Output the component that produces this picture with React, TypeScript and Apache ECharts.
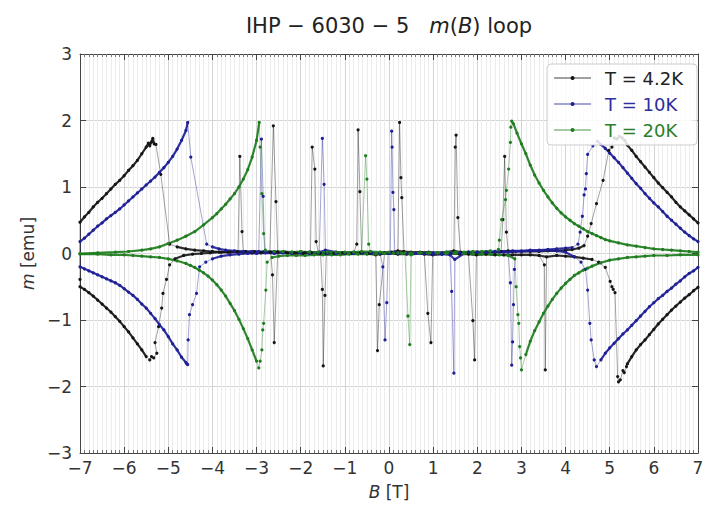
import React, { useEffect, useRef } from "react";
import * as echarts from "echarts";

type P = [number, number];

// ---------------- T = 4.2K (black) ----------------
const blackEnvUR: P[] = [[7.0,0.46],[6.9,0.52],[6.8,0.58],[6.7,0.64],[6.6,0.70],[6.5,0.77],[6.4,0.85],[6.3,0.92],[6.2,0.99],[6.1,1.06],[6.0,1.14],[5.9,1.22],[5.8,1.30],[5.7,1.38],[5.6,1.46],[5.5,1.55],[5.4,1.63],[5.34,1.70],[5.28,1.74],[5.22,1.76],[5.16,1.72],[5.1,1.74]];
const blackJumpR: P[] = [[5.05,1.6],[4.98,1.55],[4.85,1.1],[4.7,0.75],[4.58,0.45],[4.5,0.26]];
const blackZeroDesc: P[] = [[4.42,0.12],[4.3,0.08],[4.15,0.06],[4.0,0.05],[3.8,0.04],[3.6,0.04],[3.4,0.03],[3.2,0.03],[3.0,0.03],[2.8,0.03],[2.7,0.04],[2.66,0.32],[2.62,1.46],[2.58,0.51],[2.54,0.03],[2.4,0.02],[2.2,0.02],[2.0,0.02],[1.8,0.02],[1.62,0.02],[1.56,0.54],[1.52,1.78],[1.5,1.6],[1.47,0.04],[1.3,0.02],[1.1,0.01],[0.9,0.02],[0.7,0.02],[0.5,0.02],[0.34,0.03],[0.29,0.84],[0.27,1.14],[0.24,1.97],[0.2,0.04],[0.05,0.02],[-0.1,0.01],[-0.22,-0.77],[-0.26,-1.46],[-0.3,-0.02],[-0.45,0.0],[-0.65,0.01],[-0.85,0.0],[-1.05,0.01],[-1.25,0.0],[-1.42,0.0],[-1.45,-0.63],[-1.49,-1.69],[-1.51,-0.54],[-1.55,0.0],[-1.75,0.01],[-1.95,0.0],[-2.15,0.01],[-2.35,0.02],[-2.52,0.02],[-2.6,-1.34],[-2.64,-0.32],[-2.68,0.02],[-2.85,0.02],[-3.05,0.03],[-3.25,0.03],[-3.45,0.03],[-3.65,0.02],[-3.85,0.02],[-4.05,0.01],[-4.25,0.0],[-4.45,-0.01],[-4.65,-0.03],[-4.85,-0.08],[-4.97,-0.17]];
const blackBuildL: P[] = [[-5.04,-0.39],[-5.12,-0.6],[-5.15,-0.82],[-5.22,-1.1],[-5.3,-1.34],[-5.26,-1.5],[-5.33,-1.57],[-5.38,-1.55],[-5.42,-1.6]];
const blackEnvLL: P[] = [[-5.5,-1.55],[-5.6,-1.45],[-5.7,-1.36],[-5.8,-1.27],[-5.9,-1.18],[-6.0,-1.1],[-6.1,-1.02],[-6.2,-0.95],[-6.3,-0.88],[-6.4,-0.82],[-6.5,-0.76],[-6.6,-0.7],[-6.7,-0.64],[-6.8,-0.59],[-6.9,-0.54],[-7.0,-0.5]];
const blackTurnL: P[] = [[-7.0,-0.39]];
const blackEnvUL: P[] = [[-7.0,0.47],[-6.9,0.55],[-6.8,0.62],[-6.7,0.70],[-6.6,0.77],[-6.5,0.83],[-6.4,0.90],[-6.3,0.97],[-6.2,1.04],[-6.1,1.10],[-6.0,1.17],[-5.9,1.25],[-5.8,1.32],[-5.7,1.40],[-5.6,1.50],[-5.5,1.60],[-5.45,1.66],[-5.42,1.62],[-5.38,1.68],[-5.35,1.73],[-5.32,1.65],[-5.28,1.64]];
const blackJumpL: P[] = [[-5.17,1.19],[-4.97,0.14]];
const blackZeroAsc: P[] = [[-4.8,0.1],[-4.6,0.07],[-4.4,0.05],[-4.2,0.04],[-4.0,0.03],[-3.8,0.02],[-3.6,0.02],[-3.42,0.02],[-3.38,1.46],[-3.33,0.33],[-3.3,0.02],[-3.1,0.01],[-2.9,0.01],[-2.7,0.02],[-2.62,1.92],[-2.56,0.78],[-2.52,0.02],[-2.3,0.01],[-2.1,0.0],[-1.9,0.01],[-1.78,0.02],[-1.74,1.6],[-1.68,1.27],[-1.65,0.18],[-1.6,0.01],[-1.4,0.0],[-1.2,0.01],[-1.0,0.0],[-0.8,0.01],[-0.73,0.14],[-0.7,1.86],[-0.66,0.93],[-0.62,0.01],[-0.4,0.0],[-0.2,-0.01],[0.0,0.0],[0.2,-0.01],[0.4,-0.01],[0.6,0.0],[0.8,-0.01],[0.88,-0.9],[0.95,-1.34],[0.99,-0.02],[1.2,-0.01],[1.4,0.0],[1.6,-0.01],[1.8,-0.01],[1.9,-1.01],[1.94,-1.6],[1.98,-0.02],[2.2,-0.01],[2.4,-0.02],[2.6,-0.02],[2.8,-0.02],[3.0,-0.02],[3.2,-0.02],[3.4,-0.03],[3.52,-0.17],[3.54,-1.75],[3.57,-0.05],[3.8,-0.03],[4.0,-0.04],[4.2,-0.05],[4.4,-0.07],[4.6,-0.09],[4.75,-0.13],[4.9,-0.21]];
const blackBuildR: P[] = [[5.01,-0.42],[5.05,-0.5],[5.08,-0.54],[5.12,-0.59],[5.18,-1.85],[5.2,-1.93],[5.24,-1.9],[5.3,-1.76],[5.33,-1.79],[5.38,-1.7]];
const blackEnvLR: P[] = [[5.4,-1.66],[5.5,-1.55],[5.6,-1.45],[5.7,-1.37],[5.8,-1.3],[5.9,-1.22],[6.0,-1.14],[6.1,-1.06],[6.2,-0.99],[6.3,-0.92],[6.4,-0.85],[6.5,-0.79],[6.6,-0.73],[6.7,-0.67],[6.8,-0.62],[6.9,-0.56],[7.0,-0.51]];

// ---------------- T = 10K (blue) ----------------
const blueEnvUR: P[] = [[7.0,0.18],[6.9,0.22],[6.8,0.27],[6.7,0.32],[6.6,0.38],[6.5,0.44],[6.4,0.5],[6.3,0.56],[6.2,0.63],[6.1,0.7],[6.0,0.76],[5.9,0.83],[5.8,0.9],[5.7,0.98],[5.6,1.05],[5.5,1.13],[5.4,1.21],[5.3,1.29],[5.2,1.37],[5.1,1.44],[5.0,1.51],[4.9,1.58],[4.8,1.64],[4.72,1.69]];
const blueJumpR: P[] = [[4.62,1.62],[4.5,1.49],[4.47,1.2],[4.45,0.97],[4.42,0.88],[4.38,0.56],[4.33,0.32],[4.28,0.14]];
const blueZeroDesc: P[] = [[4.15,0.09],[4.0,0.08],[3.8,0.07],[3.6,0.06],[3.4,0.05],[3.2,0.05],[3.0,0.04],[2.8,0.04],[2.6,0.03],[2.4,0.03],[2.2,0.02],[2.0,0.02],[1.8,0.02],[1.6,0.01],[1.4,0.01],[1.2,0.01],[1.0,0.01],[0.8,0.0],[0.6,0.0],[0.4,0.0],[0.2,0.01],[0.13,0.01],[0.11,0.66],[0.09,0.92],[0.07,1.6],[0.06,1.84],[0.03,0.01],[-0.02,0.0],[-0.05,-0.74],[-0.09,-1.3],[-0.14,-0.2],[-0.2,0.0],[-0.4,0.01],[-0.6,0.01],[-0.8,0.0],[-1.0,0.01],[-1.2,0.0],[-1.4,0.0],[-1.6,0.01],[-1.8,0.0],[-2.0,0.01],[-2.2,0.0],[-2.4,0.01],[-2.6,0.0],[-2.8,0.01],[-3.0,0.0],[-3.2,0.0],[-3.4,-0.01],[-3.6,-0.02],[-3.8,-0.04],[-4.0,-0.08],[-4.15,-0.13]];
const blueBuildL: P[] = [[-4.29,-0.2],[-4.36,-0.6],[-4.45,-0.77],[-4.52,-0.92],[-4.55,-1.3],[-4.56,-1.67],[-4.58,-1.66]];
const blueEnvLL: P[] = [[-4.6,-1.64],[-4.7,-1.56],[-4.8,-1.45],[-4.9,-1.36],[-5.0,-1.25],[-5.1,-1.15],[-5.2,-1.07],[-5.3,-0.98],[-5.4,-0.9],[-5.5,-0.82],[-5.6,-0.76],[-5.7,-0.69],[-5.8,-0.63],[-5.9,-0.58],[-6.0,-0.53],[-6.1,-0.48],[-6.2,-0.44],[-6.3,-0.41],[-6.4,-0.38],[-6.5,-0.35],[-6.6,-0.32],[-6.7,-0.29],[-6.8,-0.26],[-6.9,-0.23],[-7.0,-0.2]];
const blueEnvUL: P[] = [[-7.0,0.18],[-6.9,0.23],[-6.8,0.29],[-6.7,0.35],[-6.6,0.41],[-6.5,0.46],[-6.4,0.52],[-6.3,0.57],[-6.2,0.62],[-6.1,0.67],[-6.0,0.73],[-5.9,0.79],[-5.8,0.85],[-5.7,0.91],[-5.6,0.97],[-5.5,1.03],[-5.4,1.09],[-5.3,1.15],[-5.2,1.22],[-5.1,1.29],[-5.0,1.37],[-4.9,1.46],[-4.8,1.57],[-4.7,1.7],[-4.6,1.85],[-4.56,1.97]];
const blueJumpL: P[] = [[-4.49,1.45],[-4.13,0.14]];
const blueZeroAsc: P[] = [[-4.0,0.1],[-3.85,0.07],[-3.7,0.05],[-3.5,0.04],[-3.3,0.03],[-3.1,0.03],[-2.95,0.03],[-2.89,1.72],[-2.85,0.86],[-2.82,0.03],[-2.6,0.03],[-2.4,0.02],[-2.2,0.02],[-2.0,0.02],[-1.8,0.02],[-1.58,0.02],[-1.51,1.73],[-1.47,1.04],[-1.44,0.05],[-1.2,0.02],[-1.0,0.01],[-0.8,0.02],[-0.6,0.01],[-0.4,0.01],[-0.2,0.0],[0.0,0.01],[0.2,0.0],[0.4,0.0],[0.6,0.0],[0.8,0.0],[1.0,-0.01],[1.2,-0.01],[1.38,-0.02],[1.42,-0.57],[1.47,-1.8],[1.49,-0.09],[1.7,0.0],[1.9,0.01],[2.1,0.01],[2.3,0.02],[2.5,0.02],[2.7,0.02],[2.75,-0.44],[2.78,-1.68],[2.8,-1.33],[2.82,-0.77],[2.84,-0.24],[2.87,0.03],[3.0,0.03],[3.2,0.04],[3.4,0.04],[3.6,0.05],[3.8,0.04],[4.0,0.02],[4.2,-0.05],[4.35,-0.13]];
const blueBuildR: P[] = [[4.45,-0.24],[4.5,-0.55],[4.55,-1.05],[4.58,-1.3],[4.65,-1.6],[4.7,-1.7]];
const blueEnvLR: P[] = [[4.8,-1.6],[4.9,-1.5],[5.0,-1.42],[5.1,-1.35],[5.2,-1.28],[5.3,-1.21],[5.4,-1.15],[5.5,-1.08],[5.6,-1.01],[5.7,-0.94],[5.8,-0.87],[5.9,-0.8],[6.0,-0.74],[6.1,-0.68],[6.2,-0.63],[6.3,-0.57],[6.4,-0.52],[6.5,-0.46],[6.6,-0.41],[6.7,-0.35],[6.8,-0.3],[6.9,-0.26],[7.0,-0.21]];

// ---------------- T = 20K (green) ----------------
const greenEnvUR: P[] = [[7.0,0.02],[6.8,0.03],[6.6,0.04],[6.4,0.05],[6.2,0.06],[6.0,0.07],[5.8,0.09],[5.6,0.11],[5.4,0.13],[5.2,0.16],[5.0,0.19],[4.9,0.21],[4.8,0.24],[4.7,0.27],[4.6,0.3],[4.5,0.33],[4.4,0.37],[4.3,0.41],[4.2,0.45],[4.1,0.5],[4.0,0.55],[3.9,0.61],[3.8,0.68],[3.7,0.76],[3.6,0.85],[3.5,0.95],[3.4,1.06],[3.3,1.18],[3.2,1.33],[3.1,1.5],[3.0,1.65],[2.9,1.81],[2.82,1.95],[2.78,1.99]];
const greenJumpR: P[] = [[2.76,1.9],[2.75,1.67],[2.71,1.27],[2.66,0.95],[2.64,0.81],[2.55,0.51],[2.5,0.2],[2.48,0.06]];
const greenZeroDesc: P[] = [[2.3,0.04],[2.1,0.03],[1.9,0.03],[1.7,0.02],[1.5,0.02],[1.3,0.02],[1.1,0.01],[0.9,0.01],[0.7,0.01],[0.5,0.01],[0.3,0.0],[0.1,0.0],[-0.1,0.0],[-0.3,-0.01],[-0.5,-0.01],[-0.7,-0.01],[-0.9,-0.01],[-1.1,-0.02],[-1.3,-0.02],[-1.5,-0.02],[-1.7,-0.02],[-1.9,-0.03],[-2.1,-0.03],[-2.3,-0.03],[-2.5,-0.04],[-2.65,-0.06]];
const greenBuildL: P[] = [[-2.76,-0.13],[-2.79,-0.55],[-2.84,-1.05],[-2.86,-1.15],[-2.88,-1.45],[-2.92,-1.62],[-2.95,-1.72]];
const greenEnvLL: P[] = [[-3.0,-1.62],[-3.1,-1.45],[-3.2,-1.28],[-3.3,-1.13],[-3.4,-0.99],[-3.5,-0.86],[-3.6,-0.75],[-3.7,-0.64],[-3.8,-0.55],[-3.9,-0.47],[-4.0,-0.4],[-4.1,-0.34],[-4.2,-0.29],[-4.3,-0.25],[-4.4,-0.21],[-4.5,-0.18],[-4.6,-0.15],[-4.8,-0.11],[-5.0,-0.08],[-5.2,-0.06],[-5.4,-0.05],[-5.6,-0.04],[-5.8,-0.03],[-6.0,-0.02],[-6.3,-0.02],[-6.6,-0.01],[-7.0,-0.01]];
const greenEnvUL: P[] = [[-7.0,0.0],[-6.6,0.01],[-6.2,0.02],[-5.9,0.03],[-5.6,0.05],[-5.4,0.07],[-5.2,0.1],[-5.0,0.15],[-4.8,0.2],[-4.6,0.26],[-4.4,0.33],[-4.2,0.43],[-4.0,0.54],[-3.9,0.6],[-3.8,0.67],[-3.7,0.74],[-3.6,0.82],[-3.5,0.9],[-3.4,1.0],[-3.3,1.12],[-3.2,1.26],[-3.1,1.45],[-3.0,1.7],[-2.94,1.97]];
const greenJumpL: P[] = [[-2.92,1.6],[-2.88,0.9],[-2.84,0.3],[-2.8,0.05]];
const greenZeroAsc: P[] = [[-2.6,0.03],[-2.4,0.03],[-2.2,0.02],[-2.0,0.03],[-1.8,0.02],[-1.6,0.02],[-1.4,0.02],[-1.2,0.02],[-1.0,0.02],[-0.8,0.02],[-0.62,0.03],[-0.53,1.47],[-0.5,1.12],[-0.46,0.14],[-0.42,0.03],[-0.2,0.02],[0.0,0.02],[0.2,0.01],[0.36,0.01],[0.43,-0.94],[0.47,-1.37],[0.5,-0.02],[0.7,0.01],[0.9,0.01],[1.1,0.01],[1.3,0.0],[1.5,0.0],[1.7,0.0],[1.9,-0.01],[2.1,-0.01],[2.3,-0.01],[2.5,-0.02],[2.7,-0.03],[2.85,-0.08]];
const greenBuildR: P[] = [[2.88,-0.5],[2.92,-0.92],[2.94,-1.05],[2.96,-1.4],[2.98,-1.57],[3.0,-1.75]];
const greenEnvLR: P[] = [[3.1,-1.52],[3.2,-1.32],[3.3,-1.16],[3.4,-1.03],[3.5,-0.9],[3.6,-0.79],[3.7,-0.69],[3.8,-0.6],[3.9,-0.52],[4.0,-0.45],[4.1,-0.39],[4.2,-0.33],[4.3,-0.29],[4.4,-0.25],[4.5,-0.22],[4.6,-0.19],[4.8,-0.14],[5.0,-0.1],[5.2,-0.08],[5.4,-0.06],[5.6,-0.05],[5.8,-0.04],[6.0,-0.03],[6.3,-0.03],[6.6,-0.02],[7.0,-0.02]];

const seriesNames = ["T = 4.2K", "T = 10K", "T = 20K"];
const seriesColors = ["#151515", "#1e1e96", "#1f7d1f"];
const legendTextColors = ["#222222", "#2d2d9c", "#2b7f2b"];

const paths: P[][][] = [
  [blackEnvUR, blackJumpR, blackZeroDesc, blackBuildL, blackEnvLL, blackTurnL, blackEnvUL, blackJumpL, blackZeroAsc, blackBuildR, blackEnvLR],
  [blueEnvUR, blueJumpR, blueZeroDesc, blueBuildL, blueEnvLL, blueEnvUL, blueJumpL, blueZeroAsc, blueBuildR, blueEnvLR],
  [greenEnvUR, greenJumpR, greenZeroDesc, greenBuildL, greenEnvLL, greenEnvUL, greenJumpL, greenZeroAsc, greenBuildR, greenEnvLR],
];
const envelopes: P[][][] = [
  [blackEnvUR, blackEnvLL, blackEnvUL, blackEnvLR],
  [blueEnvUR, blueEnvLL, blueEnvUL, blueEnvLR],
  [greenEnvUR, greenEnvLL, greenEnvUL, greenEnvLR],
];
const zeroBands: P[][][] = [
  [blackZeroDesc, blackZeroAsc],
  [blueZeroDesc, blueZeroAsc],
  [greenZeroDesc, greenZeroAsc],
];

const xTicks = [-7, -6, -5, -4, -3, -2, -1, 0, 1, 2, 3, 4, 5, 6, 7];
const yTicks = [-3, -2, -1, 0, 1, 2, 3];

const FONT = "DejaVu Sans";
const fmt = (v: number) => String(v).replace("-", "\u2212");

function buildOption() {
  const series: any[] = [];
  seriesNames.forEach((name, i) => {
    const color = seriesColors[i];
    envelopes[i].forEach((seg, k) => {
      series.push({
        name: `env-${i}-${k}`, type: "line", data: seg, symbol: "none",
        lineStyle: { color, width: 2.2, opacity: 0.9 }, silent: true,
      });
    });
    zeroBands[i].forEach((seg, k) => {
      series.push({
        name: `zero-${i}-${k}`, type: "line", data: seg.filter((p) => Math.abs(p[1]) < 0.13),
        symbol: "none", lineStyle: { color, width: 2.2, opacity: 0.85 }, silent: true,
      });
    });
    series.push({
      name, type: "line", data: paths[i].flat(),
      symbol: "circle", symbolSize: 3.2, showSymbol: true, showAllSymbol: true,
      itemStyle: { color },
      lineStyle: { color, width: 1, opacity: 0.4 }, silent: true,
    });
  });

  const gridColor = "#d4d4d4";
  const minorColor = "#ececec";
  const spine = "#444";
  const xMin = xTicks[0], xMax = xTicks[xTicks.length - 1];
  const yMin = yTicks[0], yMax = yTicks[yTicks.length - 1];

  return {
    animation: false,
    textStyle: { fontFamily: FONT },
    title: {
      text: "IHP \u2212 6030 \u2212 5   {i|m}({i|B}) loop",
      left: 389, top: 15, textAlign: "center", padding: 0,
      textStyle: {
        fontFamily: FONT, fontSize: 21, fontWeight: "normal", color: "#222",
        rich: { i: { fontFamily: FONT, fontSize: 21, fontStyle: "italic", color: "#222" } },
      },
    },
    grid: { left: 80, right: 15, top: 54, bottom: 53 },
    legend: {
      data: seriesNames.map((n, i) => ({ name: n, textStyle: { color: legendTextColors[i] } })),
      orient: "vertical", right: 16, top: 64,
      padding: [5, 14, 6, 6], itemGap: 8, itemWidth: 37, itemHeight: 5,
      backgroundColor: "rgba(255,255,255,0.85)", borderColor: "#cccccc", borderWidth: 1, borderRadius: 4,
      textStyle: { fontFamily: FONT, fontSize: 18, padding: [0, 0, 0, 9] },
      selectedMode: false,
    },
    xAxis: [
      {
        type: "value", min: xMin, max: xMax, interval: 1, position: "bottom",
        name: "{i|B} [T]", nameLocation: "middle", nameGap: 30,
        nameTextStyle: { fontFamily: FONT, fontSize: 17, color: "#333", rich: { i: { fontFamily: FONT, fontSize: 17, fontStyle: "italic", color: "#333" } } },
        axisLine: { show: true, onZero: false, lineStyle: { color: spine, width: 1 } },
        axisTick: { show: true, inside: true, length: 6, lineStyle: { color: spine } },
        minorTick: { show: true, splitNumber: 10, length: 3, lineStyle: { color: "#777" } },
        axisLabel: { fontFamily: FONT, fontSize: 17, color: "#333", margin: 6, formatter: fmt },
        splitLine: { show: true, lineStyle: { color: gridColor, width: 1 } },
        minorSplitLine: { show: true, lineStyle: { color: minorColor, width: 1 } },
      },
      {
        type: "value", min: xMin, max: xMax, interval: 1, position: "top",
        axisLine: { show: true, onZero: false, lineStyle: { color: spine, width: 1 } },
        axisTick: { show: true, inside: true, length: 6, lineStyle: { color: spine } },
        minorTick: { show: true, splitNumber: 10, length: 3, lineStyle: { color: "#777" } },
        axisLabel: { show: false }, splitLine: { show: false },
      },
    ],
    yAxis: [
      {
        type: "value", min: yMin, max: yMax, interval: 1, position: "left",
        name: "{i|m} [emu]", nameLocation: "middle", nameGap: 42,
        nameTextStyle: { fontFamily: FONT, fontSize: 17, color: "#333", rich: { i: { fontFamily: FONT, fontSize: 17, fontStyle: "italic", color: "#333" } } },
        axisLine: { show: true, onZero: false, lineStyle: { color: spine, width: 1 } },
        axisTick: { show: true, inside: true, length: 6, lineStyle: { color: spine } },
        axisLabel: { fontFamily: FONT, fontSize: 17, color: "#333", margin: 8, formatter: fmt },
        splitLine: { show: true, lineStyle: { color: gridColor, width: 1 } },
      },
      {
        type: "value", min: yMin, max: yMax, interval: 1, position: "right",
        axisLine: { show: true, onZero: false, lineStyle: { color: spine, width: 1 } },
        axisTick: { show: true, inside: true, length: 6, lineStyle: { color: spine } },
        axisLabel: { show: false }, splitLine: { show: false },
      },
    ],
    series,
  };
}

export default function App() {
  const ref = useRef<HTMLDivElement>(null);
  useEffect(() => {
    if (!ref.current) return;
    const chart = echarts.init(ref.current, undefined, { renderer: "svg" });
    chart.setOption(buildOption() as any);
    return () => chart.dispose();
  }, []);
  return (
    <div
      ref={ref}
      style={{ position: "absolute", left: 0, top: 0, width: 713, height: 506, background: "#fff" }}
    />
  );
}
